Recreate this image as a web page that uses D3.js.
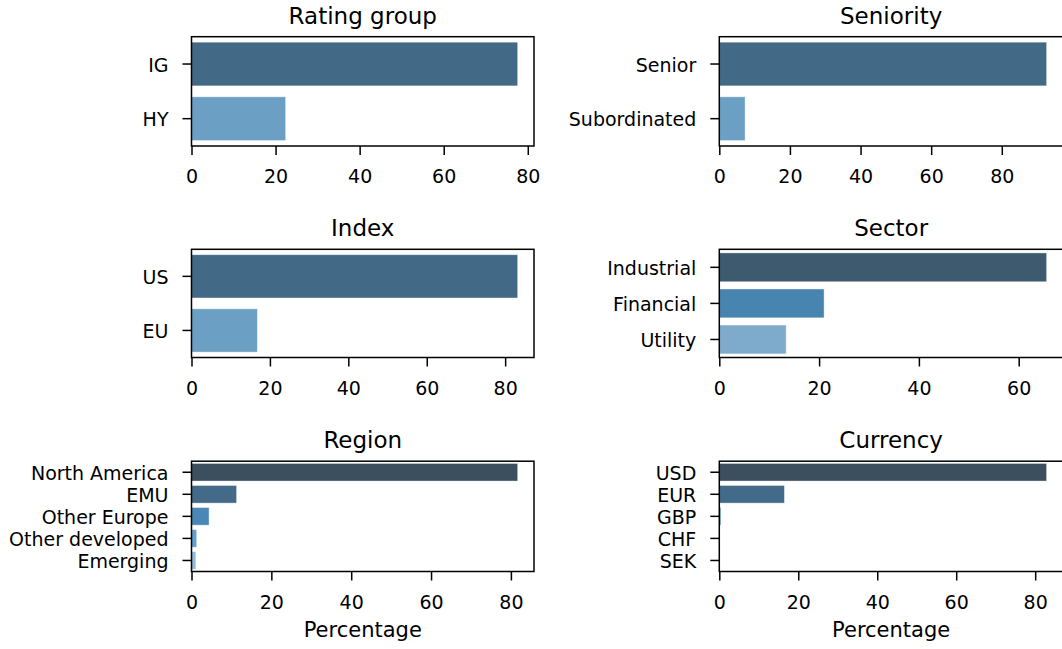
<!DOCTYPE html>
<html>
<head>
<meta charset="utf-8">
<script src="https://cdn.jsdelivr.net/npm/d3@7"></script>
<style>
  body { margin: 0; background: #fff; }
  text { font-family: "DejaVu Sans", sans-serif; fill: #000; }
</style>
</head>
<body>
<div id="chart"></div>
<script>
// data (percentages)
const ratingCats = ["IG", "HY"];
const ratingVals = [77.6, 22.4];

const seniorityCats = ["Senior", "Subordinated"];
const seniorityVals = [92.7, 7.3];

const indexCats = ["US", "EU"];
const indexVals = [83.2, 16.8];

const sectorCats = ["Industrial", "Financial", "Utility"];
const sectorVals = [65.6, 21.0, 13.4];

const regionCats = ["North America", "EMU", "Other Europe", "Other developed", "Emerging"];
const regionVals = [81.7, 11.3, 4.4, 1.3, 1.1];

const currencyCats = ["USD", "EUR", "GBP", "CHF", "SEK"];
const currencyVals = [82.9, 16.5, 0.4, 0.1, 0.1];

const xTicks = [0, 20, 40, 60, 80];

// seaborn "Blues_d" look, per number of bars
const palettes = {
    2: ["#426986", "#6b9fc3"],
    3: ["#3d5a6e", "#4884b0", "#7eaacb"],
    5: ["#3c4f5f", "#436a88", "#4a87b6", "#64a0cd", "#92bcdd"]
};

const panels = [
    { title: "Rating group", cats: ratingCats, vals: ratingVals, col: 0, row: 0 },
    { title: "Seniority", cats: seniorityCats, vals: seniorityVals, col: 1, row: 0 },
    { title: "Index", cats: indexCats, vals: indexVals, col: 0, row: 1 },
    { title: "Sector", cats: sectorCats, vals: sectorVals, col: 1, row: 1 },
    { title: "Region", cats: regionCats, vals: regionVals, col: 0, row: 2, xlabel: "Percentage" },
    { title: "Currency", cats: currencyCats, vals: currencyVals, col: 1, row: 2, xlabel: "Percentage" }
];

const W = 1062, H = 649;
const colX = [[191.5, 534], [719.3, 1063]];
const rowY = [[36.7, 146], [249.3, 357.5], [461.2, 571.5]];

const svg = d3.select("#chart").append("svg")
    .attr("width", W)
    .attr("height", H);

panels.forEach(p => {
    const [x0, x1] = colX[p.col];
    const [y0, y1] = rowY[p.row];
    const w = x1 - x0, h = y1 - y0;
    const g = svg.append("g").attr("transform", `translate(${x0},${y0})`);

    // matplotlib style: 5% margin past the longest bar
    const x = d3.scaleLinear()
        .domain([0, d3.max(p.vals) * 1.05])
        .range([0, w]);

    const y = d3.scaleBand()
        .domain(p.cats)
        .range([0, h])
        .paddingInner(0.2)
        .paddingOuter(0.1);

    const colors = palettes[p.cats.length];

    g.selectAll(".bar")
        .data(p.cats)
        .enter()
        .append("rect")
        .attr("class", "bar")
        .attr("x", x(0))
        .attr("y", d => y(d))
        .attr("width", (d, i) => x(p.vals[i]) - x(0))
        .attr("height", y.bandwidth())
        .attr("fill", (d, i) => colors[i])
        .attr("stroke", "#ffffff")
        .attr("stroke-opacity", 0.5)
        .attr("stroke-width", 0.8);

    // axes
    const xa = g.append("g")
        .attr("transform", `translate(0,${h})`)
        .call(d3.axisBottom(x)
            .tickValues(xTicks.filter(t => t <= x.domain()[1]))
            .tickFormat(d3.format("d"))
            .tickSize(9)
            .tickPadding(15));
    xa.select(".domain").remove();

    const ya = g.append("g")
        .call(d3.axisLeft(y).tickSize(9).tickPadding(14));
    ya.select(".domain").remove();
    ya.selectAll(".tick text").attr("dy", "0.4em");

    [xa, ya].forEach(a => {
        a.attr("font-size", null).attr("font-family", null);
        a.selectAll(".tick line").attr("stroke", "#000").attr("stroke-width", 1.5);
        a.selectAll(".tick text").style("font-size", "19px");
    });

    // frame (all four spines)
    g.append("rect")
        .attr("width", w)
        .attr("height", h)
        .attr("fill", "none")
        .attr("stroke", "#000")
        .attr("stroke-width", 1.5);

    g.append("text")
        .attr("x", w / 2)
        .attr("y", -13)
        .attr("text-anchor", "middle")
        .style("font-size", "23px")
        .text(p.title);

    if (p.xlabel) {
        g.append("text")
            .attr("x", w / 2)
            .attr("y", h + 66)
            .attr("text-anchor", "middle")
            .style("font-size", "21px")
            .text(p.xlabel);
    }
});
</script>
</body>
</html>
